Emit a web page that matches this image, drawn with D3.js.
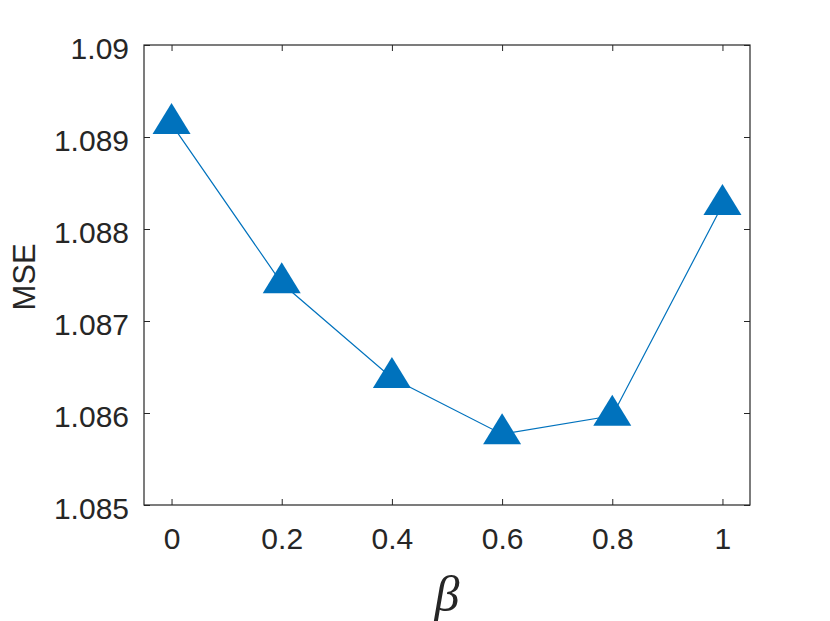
<!DOCTYPE html>
<html>
<head>
<meta charset="utf-8">
<title>MSE vs beta</title>
<script src="https://cdn.jsdelivr.net/npm/d3@7"></script>
<style>
  body { margin: 0; background: #fff; }
  svg { display: block; }
  .tick text { font-family: "Liberation Sans", Arial, sans-serif; font-size: 30px; fill: #262626; }
</style>
</head>
<body>
<script>
// values
var beta = [0, 0.2, 0.4, 0.6, 0.8, 1];
var mse = [1.08914, 1.08741, 1.08638, 1.08577, 1.08597, 1.08826];
var xTicks = [0, 0.2, 0.4, 0.6, 0.8, 1];
var yTicks = [1.085, 1.086, 1.087, 1.088, 1.089, 1.09];

var W = 830, H = 621;
var mL = 144, mR = 750, mT = 45, mB = 505;

var svg = d3.select("body").append("svg").attr("width", W).attr("height", H);

var x = d3.scaleLinear().domain([-0.05, 1.05]).range([mL, mR]);
var y = d3.scaleLinear().domain([1.085, 1.09]).range([mB, mT]);

var axisCol = "#262626";

// bottom axis
var gx = svg.append("g").attr("transform", "translate(0," + mB + ")")
  .call(d3.axisBottom(x).tickValues(xTicks).tickSizeInner(-6).tickSizeOuter(0).tickPadding(23)
    .tickFormat(function(d){ return d3.format("")(+d.toFixed(1)); }));
gx.select(".domain").remove();
gx.selectAll("line").attr("stroke", axisCol);

// top ticks
var gt = svg.append("g").attr("transform", "translate(0," + mT + ")")
  .call(d3.axisTop(x).tickValues(xTicks).tickSizeInner(-6).tickSizeOuter(0).tickFormat(""));
gt.select(".domain").remove();
gt.selectAll("line").attr("stroke", axisCol);

// left axis
var gy = svg.append("g").attr("transform", "translate(" + mL + ",0)")
  .call(d3.axisLeft(y).tickValues(yTicks).tickSizeInner(-6).tickSizeOuter(0).tickPadding(15)
    .tickFormat(function(d){ return d3.format("")(+d.toFixed(3)); }));
gy.select(".domain").remove();
gy.selectAll("line").attr("stroke", axisCol);
gy.selectAll(".tick text").attr("dy", "0.46em");

// right ticks
var gr = svg.append("g").attr("transform", "translate(" + mR + ",0)")
  .call(d3.axisRight(y).tickValues(yTicks).tickSizeInner(-6).tickSizeOuter(0).tickFormat(""));
gr.select(".domain").remove();
gr.selectAll("line").attr("stroke", axisCol);

// box
svg.append("rect")
  .attr("x", mL).attr("y", mT)
  .attr("width", mR - mL).attr("height", mB - mT)
  .attr("fill", "none").attr("stroke", axisCol).attr("stroke-width", 1.2);

// line
var line = d3.line().x(function(d, i){ return x(beta[i]); }).y(function(d){ return y(d); });
svg.append("path").datum(mse)
  .attr("d", line).attr("fill", "none").attr("stroke", "#0072BD").attr("stroke-width", 1.2);

// triangle markers
svg.selectAll("path.mk").data(mse).enter().append("path")
  .attr("class", "mk")
  .attr("d", "M0,-21L19,10L-19,10Z")
  .attr("transform", function(d, i){ return "translate(" + x(beta[i]) + "," + y(d) + ")"; })
  .attr("fill", "#0072BD");

// labels
svg.append("text")
  .attr("transform", "translate(35,277) rotate(-90)")
  .attr("text-anchor", "middle")
  .attr("font-family", "Liberation Sans, Arial, sans-serif")
  .attr("font-size", 31).attr("fill", "#262626")
  .text("MSE");

svg.append("text")
  .attr("x", (mL + mR) / 2).attr("y", 611)
  .attr("text-anchor", "middle")
  .attr("font-family", "Liberation Serif, serif")
  .attr("font-style", "italic")
  .attr("font-size", 50).attr("fill", "#262626")
  .text("β");
</script>
</body>
</html>
